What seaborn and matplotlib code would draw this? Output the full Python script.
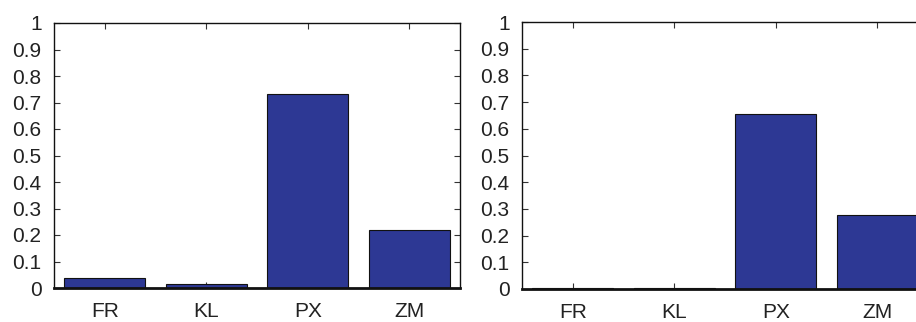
import matplotlib
matplotlib.use("Agg")
import matplotlib.pyplot as plt
import seaborn as sns
import pandas as pd

categories = ["FR", "KL", "PX", "ZM"]
left_values = [0.036, 0.015, 0.731, 0.219]
right_values = [0.003, 0.005, 0.654, 0.276]
yticks = [0, 0.1, 0.2, 0.3, 0.4, 0.5, 0.6, 0.7, 0.8, 0.9, 1]
ytick_labels = ["0", "0.1", "0.2", "0.3", "0.4", "0.5", "0.6", "0.7", "0.8", "0.9", "1"]

sns.set_style("white")
plt.rcParams["font.family"] = ["Liberation Sans", "DejaVu Sans"]

bar_color = "#2D3894"
text_color = "#222222"

fig = plt.figure(figsize=(9.16, 3.22), dpi=100)
ax_left = fig.add_axes([54 / 916, 34 / 322, 406 / 916, 265 / 322])
ax_right = fig.add_axes([522 / 916, 33 / 322, 406 / 916, 267 / 322])


def draw_panel(ax, values):
    df = pd.DataFrame({"cat": categories, "val": values})
    sns.barplot(data=df, x="cat", y="val", ax=ax, color=bar_color,
                saturation=1, width=0.8, edgecolor="#111111", linewidth=0.8)
    ax.set_xlim(-0.5, 3.5)
    ax.set_ylim(0, 1)
    ax.set_yticks(yticks)
    ax.set_yticklabels(ytick_labels)
    ax.set_xlabel("")
    ax.set_ylabel("")
    for side in ["left", "top", "right"]:
        ax.spines[side].set_visible(True)
        ax.spines[side].set_color("#111111")
        ax.spines[side].set_linewidth(1.0)
    ax.spines["bottom"].set_color("#111111")
    ax.spines["bottom"].set_linewidth(2.0)
    ax.tick_params(axis="both", which="both", direction="in", length=4,
                   width=0.8, color="#333333", labelcolor=text_color,
                   labelsize=15, top=True, right=True, left=True, bottom=True)
    ax.tick_params(axis="x", pad=10)
    ax.tick_params(axis="y", pad=9)


draw_panel(ax_left, left_values)
draw_panel(ax_right, right_values)

fig.savefig("out.png", dpi=100)
